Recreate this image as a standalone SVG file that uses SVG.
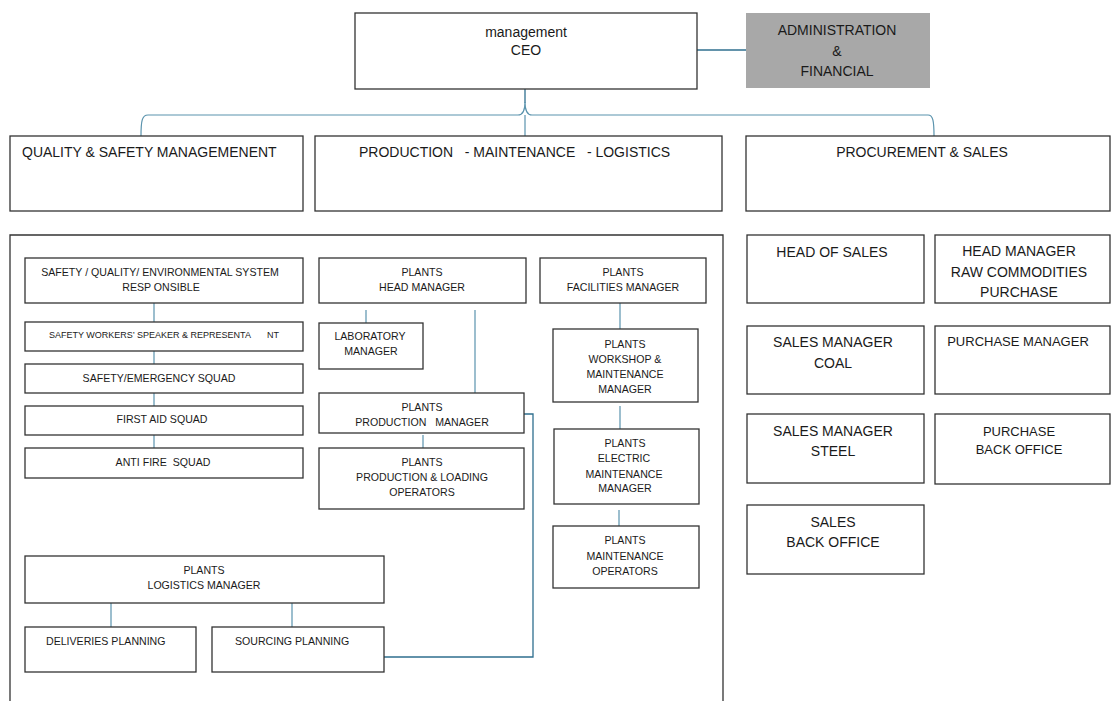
<svg xmlns="http://www.w3.org/2000/svg" width="1113" height="701" viewBox="0 0 1113 701">
<style>
.b{fill:#fff;stroke:#333;stroke-width:1.3}
.g{fill:#a8a8a8;stroke:none}
.t{font-family:"Liberation Sans",Arial,sans-serif;fill:#1a1a1a;white-space:pre}
.L{font-size:14px}
.M{font-size:13px}
.s{font-size:10.6px}
.xs{font-size:9px}
.c{text-anchor:middle}
.k{fill:none;stroke:#5a93ad;stroke-width:1.2}
.kd{fill:none;stroke:#2f6f8f;stroke-width:1.3}
</style>
<rect width="1113" height="701" fill="#fff"/>
<g id="connectors">
<line class="kd" x1="697" y1="50" x2="746" y2="50"/>
<line class="kd" x1="525" y1="89" x2="525" y2="103"/>
<path class="k" d="M141,136 C141,121 142,115 148,115 L518,115 C523,115 525,110 525,102 C525,110 527,115 532,115 L928,115 C933,115 934,121 934,136"/>
<line class="k" x1="525" y1="115" x2="525" y2="136"/>
<line class="k" x1="154" y1="303" x2="154" y2="322"/>
<line class="k" x1="154" y1="351" x2="154" y2="364"/>
<line class="k" x1="154" y1="393" x2="154" y2="406"/>
<line class="k" x1="154" y1="435" x2="154" y2="448"/>
<line class="k" x1="366" y1="310" x2="366" y2="323"/>
<line class="k" x1="475" y1="310" x2="475" y2="393"/>
<line class="k" x1="423" y1="435" x2="423" y2="448"/>
<line class="k" x1="620" y1="303" x2="620" y2="329"/>
<line class="k" x1="620" y1="406" x2="620" y2="429"/>
<line class="k" x1="619" y1="510" x2="619" y2="526"/>
<path class="kd" d="M524,414 H533 V657 H384"/>
<line class="k" x1="111" y1="603" x2="111" y2="627"/>
<line class="k" x1="292" y1="603" x2="292" y2="627"/>
</g>
<g id="ceo"><rect class="b" x="355" y="13" width="342" height="76"/>
<text class="t L c" x="526" y="37">management</text><text class="t L c" x="526" y="55">CEO</text></g>
<g id="admin"><rect class="g" x="746" y="13" width="184" height="75"/>
<text class="t L c" x="837" y="35">ADMINISTRATION</text><text class="t L c" x="837" y="56">&amp;</text><text class="t L c" x="837" y="76">FINANCIAL</text></g>
<g id="quality"><rect class="b" x="10" y="136" width="293" height="75"/>
<text class="t L" x="22" y="157">QUALITY &amp; SAFETY MANAGEMENENT</text></g>
<g id="production"><rect class="b" x="315" y="136" width="407" height="75"/>
<text class="t L" x="359" y="157">PRODUCTION   - MAINTENANCE   - LOGISTICS</text></g>
<g id="procurement"><rect class="b" x="746" y="136" width="364" height="75"/>
<text class="t L c" x="922" y="157">PROCUREMENT &amp; SALES</text></g>
<g id="container"><path d="M10,701 V235 H723 V701" fill="none" stroke="#333" stroke-width="1.3"/></g>
<g id="sqe"><rect class="b" x="25" y="258" width="278" height="45"/>
<text class="t s c" x="160" y="276">SAFETY / QUALITY/ ENVIRONMENTAL SYSTEM</text><text class="t s c" x="161" y="291">RESP ONSIBLE</text></g>
<g id="workers"><rect class="b" x="25" y="322" width="278" height="29"/>
<text class="t xs" x="49" y="338">SAFETY WORKERS’ SPEAKER &amp; REPRESENTA<tspan x="267">NT</tspan></text></g>
<g id="emergency"><rect class="b" x="25" y="364" width="278" height="29"/>
<text class="t s c" x="159" y="382">SAFETY/EMERGENCY SQUAD</text></g>
<g id="firstaid"><rect class="b" x="25" y="406" width="278" height="29"/>
<text class="t s c" x="162" y="423">FIRST AID SQUAD</text></g>
<g id="antifire"><rect class="b" x="25" y="448" width="278" height="30"/>
<text class="t s c" x="163" y="466">ANTI FIRE  SQUAD</text></g>
<g id="headmgr"><rect class="b" x="319" y="258" width="207" height="45"/>
<text class="t s c" x="422" y="276">PLANTS</text><text class="t s c" x="422" y="291">HEAD MANAGER</text></g>
<g id="lab"><rect class="b" x="319" y="323" width="104" height="46"/>
<text class="t s c" x="370" y="340">LABORATORY</text><text class="t s c" x="371" y="355">MANAGER</text></g>
<g id="prodmgr"><rect class="b" x="319" y="393" width="205" height="40"/>
<text class="t s c" x="422" y="411">PLANTS</text><text class="t s c" x="422" y="426">PRODUCTION   MANAGER</text></g>
<g id="loading"><rect class="b" x="319" y="448" width="205" height="61"/>
<text class="t s c" x="422" y="466">PLANTS</text><text class="t s c" x="422" y="481">PRODUCTION &amp; LOADING</text><text class="t s c" x="422" y="496">OPERATORS</text></g>
<g id="facilities"><rect class="b" x="540" y="258" width="166" height="45"/>
<text class="t s c" x="623" y="276">PLANTS</text><text class="t s c" x="623" y="291">FACILITIES MANAGER</text></g>
<g id="workshop"><rect class="b" x="553" y="329" width="145" height="73"/>
<text class="t s c" x="625" y="348">PLANTS</text><text class="t s c" x="625" y="363">WORKSHOP &amp;</text><text class="t s c" x="625" y="378">MAINTENANCE</text><text class="t s c" x="625" y="393">MANAGER</text></g>
<g id="electric"><rect class="b" x="554" y="429" width="145" height="75"/>
<text class="t s c" x="625" y="447">PLANTS</text><text class="t s c" x="624" y="462">ELECTRIC</text><text class="t s c" x="624" y="478">MAINTENANCE</text><text class="t s c" x="625" y="492">MANAGER</text></g>
<g id="maintops"><rect class="b" x="553" y="526" width="146" height="62"/>
<text class="t s c" x="625" y="544">PLANTS</text><text class="t s c" x="625" y="560">MAINTENANCE</text><text class="t s c" x="625" y="575">OPERATORS</text></g>
<g id="logistics"><rect class="b" x="25" y="556" width="359" height="47"/>
<text class="t s c" x="204" y="574">PLANTS</text><text class="t s c" x="204" y="589">LOGISTICS MANAGER</text></g>
<g id="deliveries"><rect class="b" x="25" y="627" width="171" height="45"/>
<text class="t s" x="46" y="645">DELIVERIES PLANNING</text></g>
<g id="sourcing"><rect class="b" x="212" y="627" width="172" height="45"/>
<text class="t s" x="235" y="645">SOURCING PLANNING</text></g>
<g id="headsales"><rect class="b" x="747" y="235" width="177" height="68"/>
<text class="t L c" x="832" y="257">HEAD OF SALES</text></g>
<g id="rawcomm"><rect class="b" x="935" y="235" width="175" height="68"/>
<text class="t L c" x="1019" y="256">HEAD MANAGER</text><text class="t L c" x="1019" y="277">RAW COMMODITIES</text><text class="t L c" x="1019" y="297">PURCHASE</text></g>
<g id="salescoal"><rect class="b" x="747" y="326" width="177" height="68"/>
<text class="t L c" x="833" y="347">SALES MANAGER</text><text class="t L c" x="833" y="368">COAL</text></g>
<g id="purchmgr"><rect class="b" x="935" y="326" width="175" height="68"/>
<text class="t M c" x="1018" y="346">PURCHASE MANAGER</text></g>
<g id="salessteel"><rect class="b" x="747" y="414" width="177" height="69"/>
<text class="t L c" x="833" y="436">SALES MANAGER</text><text class="t L c" x="833" y="456">STEEL</text></g>
<g id="purchbo"><rect class="b" x="935" y="414" width="175" height="70"/>
<text class="t M c" x="1019" y="436">PURCHASE</text><text class="t M c" x="1019" y="454">BACK OFFICE</text></g>
<g id="salesbo"><rect class="b" x="747" y="505" width="177" height="69"/>
<text class="t L c" x="833" y="527">SALES</text><text class="t L c" x="833" y="547">BACK OFFICE</text></g>
</svg>
